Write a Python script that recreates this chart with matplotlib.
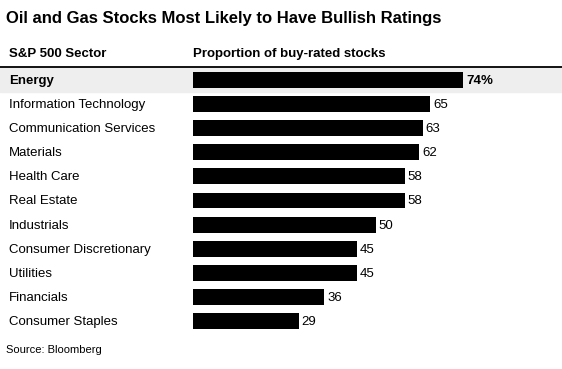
import matplotlib.pyplot as plt

# data ------------------------------------------------------------------
sectors = ["Energy", "Information Technology", "Communication Services",
           "Materials", "Health Care", "Real Estate", "Industrials",
           "Consumer Discretionary", "Utilities", "Financials",
           "Consumer Staples"]
buy_rated = [74, 65, 63, 62, 58, 58, 50, 45, 45, 36, 29]

plt.rcParams['font.family'] = ['Liberation Sans', 'DejaVu Sans']

W, H = 562, 369
fig = plt.figure(figsize=(W / 100, H / 100), dpi=100)
ax = fig.add_axes([0, 0, 1, 1])

# pixel layout -> data scale
x0_px, unit_px = 193, 3.65
row0_px, row_px = 80, 24.1
ax.set_xlim(-x0_px / unit_px, (W - x0_px) / unit_px)
ax.set_ylim((H - row0_px) / row_px, -row0_px / row_px)
ax.axis("off")

rows = list(range(len(sectors)))

# highlight band + header rule
ax.axhspan(-0.54, 0.5, color="#eeeeee", zorder=0)
ax.axhline(-0.54, color="black", lw=1.3, zorder=1)

ax.barh(rows, buy_rated, height=0.66, color="black", zorder=2)

lab_tr = ax.get_yaxis_transform()
for i, (name, val) in enumerate(zip(sectors, buy_rated)):
    bold = i == 0
    ax.text(9 / W, i + 0.04, name, transform=lab_tr, ha="left", va="center",
            fontsize=9.5, fontweight="bold" if bold else "normal")
    ax.text(val + 0.8, i + 0.04, f"{val}%" if bold else f"{val}", ha="left",
            va="center", fontsize=9.5,
            fontweight="bold" if bold else "normal")

# header
ax.text(9 / W, -1.08, "S&P 500 Sector", transform=lab_tr, ha="left",
        va="center", fontsize=9.5, fontweight="bold")
ax.text(0, -1.08, "Proportion of buy-rated stocks", ha="left",
        va="center", fontsize=9.5, fontweight="bold")

fig.text(6 / W, 1 - 18 / H, "Oil and Gas Stocks Most Likely to Have Bullish Ratings",
         ha="left", va="center", fontsize=12, fontweight="bold")
fig.text(6 / W, 1 - 350 / H, "Source: Bloomberg", ha="left", va="center",
         fontsize=8)

fig.savefig("out.png", dpi=100)
